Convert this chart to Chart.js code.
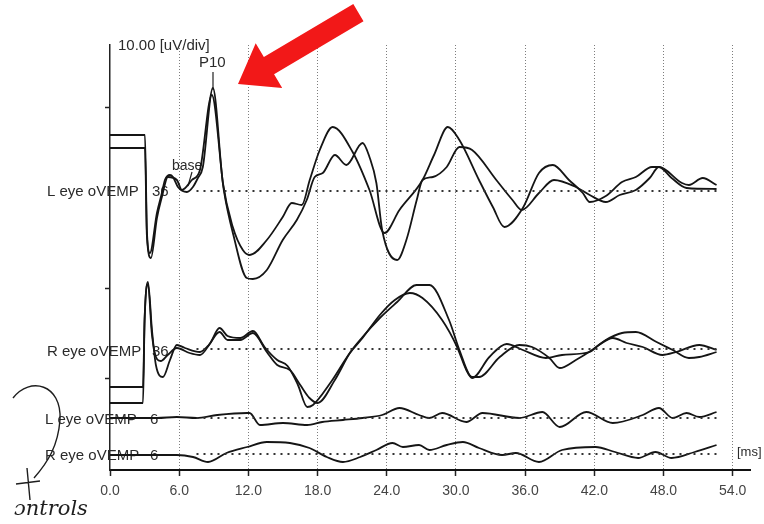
<!DOCTYPE html>
<html>
<head>
<meta charset="utf-8">
<script src="https://cdn.jsdelivr.net/npm/chart.js@4/dist/chart.umd.min.js"></script>
<style>
  html, body { margin: 0; padding: 0; background: #fff; }
  canvas { display: block; }
</style>
</head>
<body>
<canvas id="evp" width="764" height="524"></canvas>
<script>
// x ticks (ms)
const tickMs = [0, 6, 12, 18, 24, 30, 36, 42, 48, 54];
// small marks on the amplitude axis
const ampTicks = [92, 182, 363];

// L eye oVEMP 36 - two superimposed runs
const l36aMs  = [0, 3.03, 3.2, 3.46, 4.07, 4.5, 4.76, 5.2, 5.46, 5.89, 6.67, 7.19, 7.62, 8.05, 8.92, 9.79, 10.65, 11.52, 12.12, 13.6, 14.98, 15.76, 16.63, 17.32, 18.19, 19.31, 21.04, 22.5, 23.8, 25.1, 27.1, 28.1, 29.3, 30.3, 32.0, 33.2, 34.2, 35.8, 37.2, 38.4, 39.8, 41.0, 41.6, 43.0, 44.4, 45.6, 47.0, 47.6, 49.6, 50.2, 51.4, 52.6];
const l36aAmp = [56, 56, -40, -62, -22, -2, 11, 16, 14, 4, -1, 4, 13, 24, 103, 8, -36, -59, -64, -49, -26, -12, -14, 11, 41, 64, 39, 1, -42, -19, 11, 36, 64, 51, 11, -16, -36, -17, 18, 26, 11, -2, -11, -5, 9, 14, 24, 24, 8, 6, 13, 6];
const l36bMs  = [0, 3.03, 3.2, 3.55, 4.07, 4.5, 5.02, 5.8, 6.24, 7.1, 7.8, 8.83, 9.87, 10.7, 11.86, 12.38, 13.6, 14.98, 16.2, 17.06, 17.75, 18.45, 19.5, 20.5, 21.9, 22.5, 23.1, 23.6, 24.9, 25.7, 26.6, 27.1, 28.0, 29.2, 30.3, 31.4, 33.5, 34.9, 35.7, 37.2, 38.5, 40.4, 41.6, 43.0, 44.2, 45.6, 46.8, 47.6, 48.7, 50.0, 52.6];
const l36bAmp = [43, 43, -45, -67, -27, -6, 14, 11, 1, 11, 21, 96, 1, -44, -87, -88, -79, -49, -29, -9, 14, 18, 36, 26, 48, 34, 8, -39, -69, -49, -9, 11, 14, 24, 44, 41, 11, -9, -19, -2, 11, 4, -4, -11, -4, 1, 13, 24, 13, 3, 2];

// R eye oVEMP 36
const r36aMs  = [0, 2.86, 3.0, 3.29, 3.64, 3.98, 4.59, 5.2, 5.8, 6.5, 7.8, 8.5, 9.5, 10.2, 11.3, 12.4, 13.6, 14.5, 15.6, 16.5, 17.3, 18.0, 19.5, 20.8, 21.9, 23.4, 24.9, 26.6, 27.7, 29.4, 30.3, 31.4, 32.0, 33.8, 35.5, 36.6, 38.1, 39.0, 40.4, 41.8, 43.0, 44.4, 45.6, 47.4, 48.8, 50.2, 51.1, 52.6];
const r36aAmp = [-38, -38, 30, 67, 19, -16, -28, -11, 4, 1, -3, 3, 17, 9, 9, 16, -3, -16, -21, -36, -49, -54, -31, -4, 12, 31, 47, 64, 64, 29, -1, -28, -28, -8, 4, 2, -9, -19, -11, -1, 9, 16, 17, 7, -1, -9, -8, -3];
const r36bMs  = [0, 2.86, 3.0, 3.29, 3.64, 4.07, 4.4, 5.0, 5.8, 6.9, 7.8, 8.7, 9.5, 10.2, 11.3, 12.4, 13.4, 14.5, 15.4, 16.3, 17.1, 17.6, 19.1, 20.8, 21.9, 23.4, 24.7, 26.0, 27.1, 28.8, 30.1, 30.9, 31.4, 32.9, 34.4, 35.8, 37.8, 39.2, 41.6, 42.4, 43.6, 44.8, 46.2, 47.9, 49.1, 51.1, 52.6];
const r36bAmp = [-54, -54, 28, 65, 14, -10, -12, -6, 1, -4, -6, 6, 21, 13, 11, 18, 2, -11, -17, -36, -58, -56, -34, -4, 11, 34, 49, 56, 51, 29, 2, -21, -29, -8, 5, -1, -9, -6, -3, 4, 11, 6, 2, -6, -3, 4, -1];

// L eye oVEMP 6 / R eye oVEMP 6
const l6Ms  = [0, 4.07, 5.8, 7.5, 9.3, 11.9, 12.1, 13.0, 15.0, 17.1, 18.4, 20.2, 21.9, 23.6, 25.1, 26.8, 27.7, 28.8, 30.9, 32.3, 35.5, 37.5, 39.0, 41.3, 43.6, 46.2, 47.6, 48.8, 50.0, 51.1, 52.6];
const l6Amp = [0, 0, 1, 0, 3, 5, 5, -7, -5, -7, -4, -2, 0, 3, 10, 3, 0, 5, -4, 5, 0, 6, -9, 6, -5, 3, 10, 0, 5, 1, 6];
const r6Ms  = [0, 4.07, 5.8, 7.2, 8.5, 10.1, 11.9, 13.6, 15.6, 17.3, 18.8, 20.2, 21.7, 23.1, 24.5, 25.4, 26.8, 27.7, 29.2, 30.6, 32.0, 34.0, 35.2, 37.2, 39.2, 42.1, 43.8, 45.8, 47.3, 48.7, 50.7, 52.6];
const r6Amp = [-1, -1, -1, -3, -8, 1, 7, 12, 11, 6, -3, -8, -3, 4, 11, 7, 9, 4, 9, 12, 6, -1, 1, -8, 4, 7, 2, -4, 2, -4, 2, 9];

// vertical offset of each channel on the sheet
const BASE_L36 = 279, BASE_R36 = 121, BASE_L6 = 52, BASE_R6 = 16;
const BASE_FROM = 7.5, BASE_TO = 52.6;

function trace(ms, amp, base) {
  return {
    data: ms.map((t, i) => ({ x: t, y: base + amp[i] })),
    borderColor: '#151515',
    borderWidth: 1.8,
    pointRadius: 0,
    fill: false,
    cubicInterpolationMode: 'monotone'
  };
}

function baseline(base) {
  return {
    data: [{ x: BASE_FROM, y: base }, { x: BASE_TO, y: base }],
    borderColor: '#333',
    borderWidth: 2,
    borderDash: [2, 5],
    pointRadius: 0,
    fill: false
  };
}

const FONT = '"Liberation Sans", Arial, sans-serif';

// labels drawn under the traces
const labelsPlugin = {
  id: 'labels',
  beforeDatasetsDraw(chart) {
    const ctx = chart.ctx;
    ctx.save();
    ctx.fillStyle = '#2a2a2a';
    ctx.textBaseline = 'middle';
    ctx.font = '15px ' + FONT;
    ctx.fillText('L eye oVEMP', 47, 192);
    ctx.fillText('36', 152, 192);
    ctx.fillText('R eye oVEMP', 47, 352);
    ctx.fillText('36', 152, 352);
    ctx.fillText('L eye oVEMP', 45, 420);
    ctx.fillText('6', 150, 420);
    ctx.fillText('R eye oVEMP', 45, 456);
    ctx.fillText('6', 150, 456);
    ctx.font = '15px ' + FONT;
    ctx.fillText('10.00 [uV/div]', 118, 46);
    ctx.fillText('P10', 199, 63);
    ctx.font = '14px ' + FONT;
    ctx.fillText('base', 172, 166);
    ctx.font = '13px ' + FONT;
    ctx.fillText('[ms]', 737, 452);
    ctx.strokeStyle = '#222';
    ctx.lineWidth = 1.2;
    ctx.beginPath();
    ctx.moveTo(213, 72); ctx.lineTo(213, 90);
    ctx.moveTo(192, 172); ctx.lineTo(188, 186);
    ctx.stroke();
    ctx.restore();
  }
};

// red arrow and handwriting on the scan
const marksPlugin = {
  id: 'marks',
  afterDraw(chart) {
    const ctx = chart.ctx;
    ctx.save();
    const tx = 238, ty = 84;
    const dx = 0.86, dy = -0.51, px = 0.51, py = 0.86;
    const pt = (a, b) => [tx + a * dx + b * px, ty + a * dy + b * py];
    const poly = [pt(0, 0), pt(36, 26), pt(36, 10), pt(140, 10), pt(140, -10), pt(36, -10), pt(36, -26)];
    ctx.fillStyle = '#f21818';
    ctx.beginPath();
    poly.forEach((p, i) => i ? ctx.lineTo(p[0], p[1]) : ctx.moveTo(p[0], p[1]));
    ctx.closePath();
    ctx.fill();

    ctx.strokeStyle = '#1e1e1e';
    ctx.lineWidth = 1.4;
    ctx.beginPath();
    ctx.moveTo(13, 398);
    ctx.bezierCurveTo(30, 376, 62, 384, 60, 420);
    ctx.bezierCurveTo(58, 446, 48, 462, 34, 478);
    ctx.moveTo(27, 468); ctx.lineTo(30, 500);
    ctx.moveTo(16, 484); ctx.lineTo(40, 481);
    ctx.stroke();
    ctx.fillStyle = '#1e1e1e';
    ctx.font = 'italic 21px "DejaVu Serif", serif';
    ctx.textBaseline = 'alphabetic';
    ctx.fillText('\u0254ntrols', 14, 515);
    ctx.restore();
  }
};

new Chart(document.getElementById('evp'), {
  type: 'line',
  data: {
    datasets: [
      baseline(BASE_L36), baseline(BASE_R36), baseline(BASE_L6), baseline(BASE_R6),
      trace(l36aMs, l36aAmp, BASE_L36),
      trace(l36bMs, l36bAmp, BASE_L36),
      trace(r36aMs, r36aAmp, BASE_R36),
      trace(r36bMs, r36bAmp, BASE_R36),
      trace(l6Ms, l6Amp, BASE_L6),
      trace(r6Ms, r6Amp, BASE_R6)
    ]
  },
  options: {
    responsive: false,
    animation: false,
    layout: { padding: { left: 102, right: 14, top: 45, bottom: 0 } },
    plugins: { legend: { display: false }, tooltip: { enabled: false } },
    scales: {
      x: {
        type: 'linear',
        min: 0,
        max: 55.5,
        afterBuildTicks: axis => { axis.ticks = tickMs.map(v => ({ value: v })); },
        afterFit: axis => { axis.height = 54; },
        ticks: {
          color: '#444',
          font: { family: FONT, size: 14 },
          padding: 7,
          maxRotation: 0,
          callback: v => v.toFixed(1)
        },
        grid: {
          color: c => (c.tick && c.tick.value === 0) ? 'rgba(0,0,0,0)' : '#7d7d7d',
          lineWidth: 1,
          tickColor: '#222',
          tickLength: 6,
          tickWidth: 1.5
        },
        border: { color: '#111', width: 2, dash: [1, 2] }
      },
      y: {
        type: 'linear',
        min: 0,
        max: 425,
        afterBuildTicks: axis => { axis.ticks = ampTicks.map(v => ({ value: v })); },
        afterFit: axis => { axis.width = 8; },
        ticks: { display: false },
        grid: { drawOnChartArea: false, tickLength: 5, tickColor: '#222', tickWidth: 1.5 },
        border: { color: '#222', width: 1.5 }
      }
    }
  },
  plugins: [labelsPlugin, marksPlugin]
});
</script>
</body>
</html>
